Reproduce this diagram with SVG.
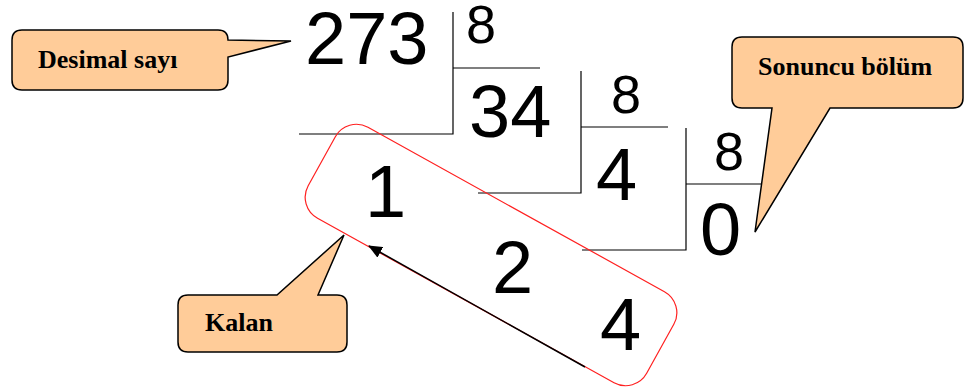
<svg xmlns="http://www.w3.org/2000/svg" width="965" height="390" viewBox="0 0 965 390">
<defs>
<style>
.num{font-family:"Liberation Sans",Arial,sans-serif;font-size:74px;fill:#000}
.div{font-family:"Liberation Sans",Arial,sans-serif;font-size:54px;fill:#000}
.lbl{font-family:"Liberation Serif","Times New Roman",serif;font-size:26px;font-weight:bold;fill:#000}
.call{fill:#FFCC99;stroke:#000;stroke-width:1.5;stroke-linejoin:miter}
.ln{stroke:#000;stroke-width:1.2;fill:none}
</style>
<marker id="ah" markerWidth="14" markerHeight="12" refX="13" refY="6" orient="auto" markerUnits="userSpaceOnUse" viewBox="0 0 14 12">
<path d="M0,0 L14,6 L0,12 Z" fill="#000"/>
</marker>
</defs>
<rect width="965" height="390" fill="#fff"/>
<g id="division">
<text class="num" x="305" y="64">273</text>
<text class="div" x="466" y="43">8</text>
<text class="num" x="469" y="137">34</text>
<text class="div" x="611" y="113">8</text>
<text class="num" x="596" y="200">4</text>
<text class="div" x="714" y="170">8</text>
<text class="num" x="700" y="255">0</text>
<text class="num" x="365" y="217">1</text>
<text class="num" x="492" y="293">2</text>
<text class="num" x="600" y="350">4</text>
<path class="ln" d="M453,12 V134 H299 M453,68 H540"/>
<path class="ln" d="M581,71 V193 H478 M581,127 H668"/>
<path class="ln" d="M686,128 V250 H582 M686,184 H763"/>
</g>
<g id="remainders">
<rect x="-193.5" y="-52" width="387" height="104" rx="24" ry="24" transform="translate(491,255) rotate(29)" fill="none" stroke="#FF2020" stroke-width="1.2"/>
</g>
<g id="connectors">
<line x1="585" y1="367" x2="369" y2="246" stroke="#000" stroke-width="1.5" marker-end="url(#ah)"/>
</g>
<g id="callout-desimal">
<path class="call" d="M22,30 H218 Q228,30 228,40 L291,41 L228,57 V80 Q228,90 218,90 H22 Q12,90 12,80 V40 Q12,30 22,30 Z"/>
<text class="lbl" x="38" y="68">Desimal sayı</text>
</g>
<g id="callout-sonuncu">
<path class="call" d="M742,37 H953 Q963,37 963,47 V98 Q963,108 953,108 H830 L755,232 L772,108 H742 Q732,108 732,98 V47 Q732,37 742,37 Z"/>
<text class="lbl" x="758" y="75">Sonuncu bölüm</text>
</g>
<g id="callout-kalan">
<path class="call" d="M188,295 H277 L344,235 L318,295 H337 Q347,295 347,305 V342 Q347,352 337,352 H188 Q178,352 178,342 V305 Q178,295 188,295 Z"/>
<text class="lbl" x="205" y="331">Kalan</text>
</g>
</svg>
